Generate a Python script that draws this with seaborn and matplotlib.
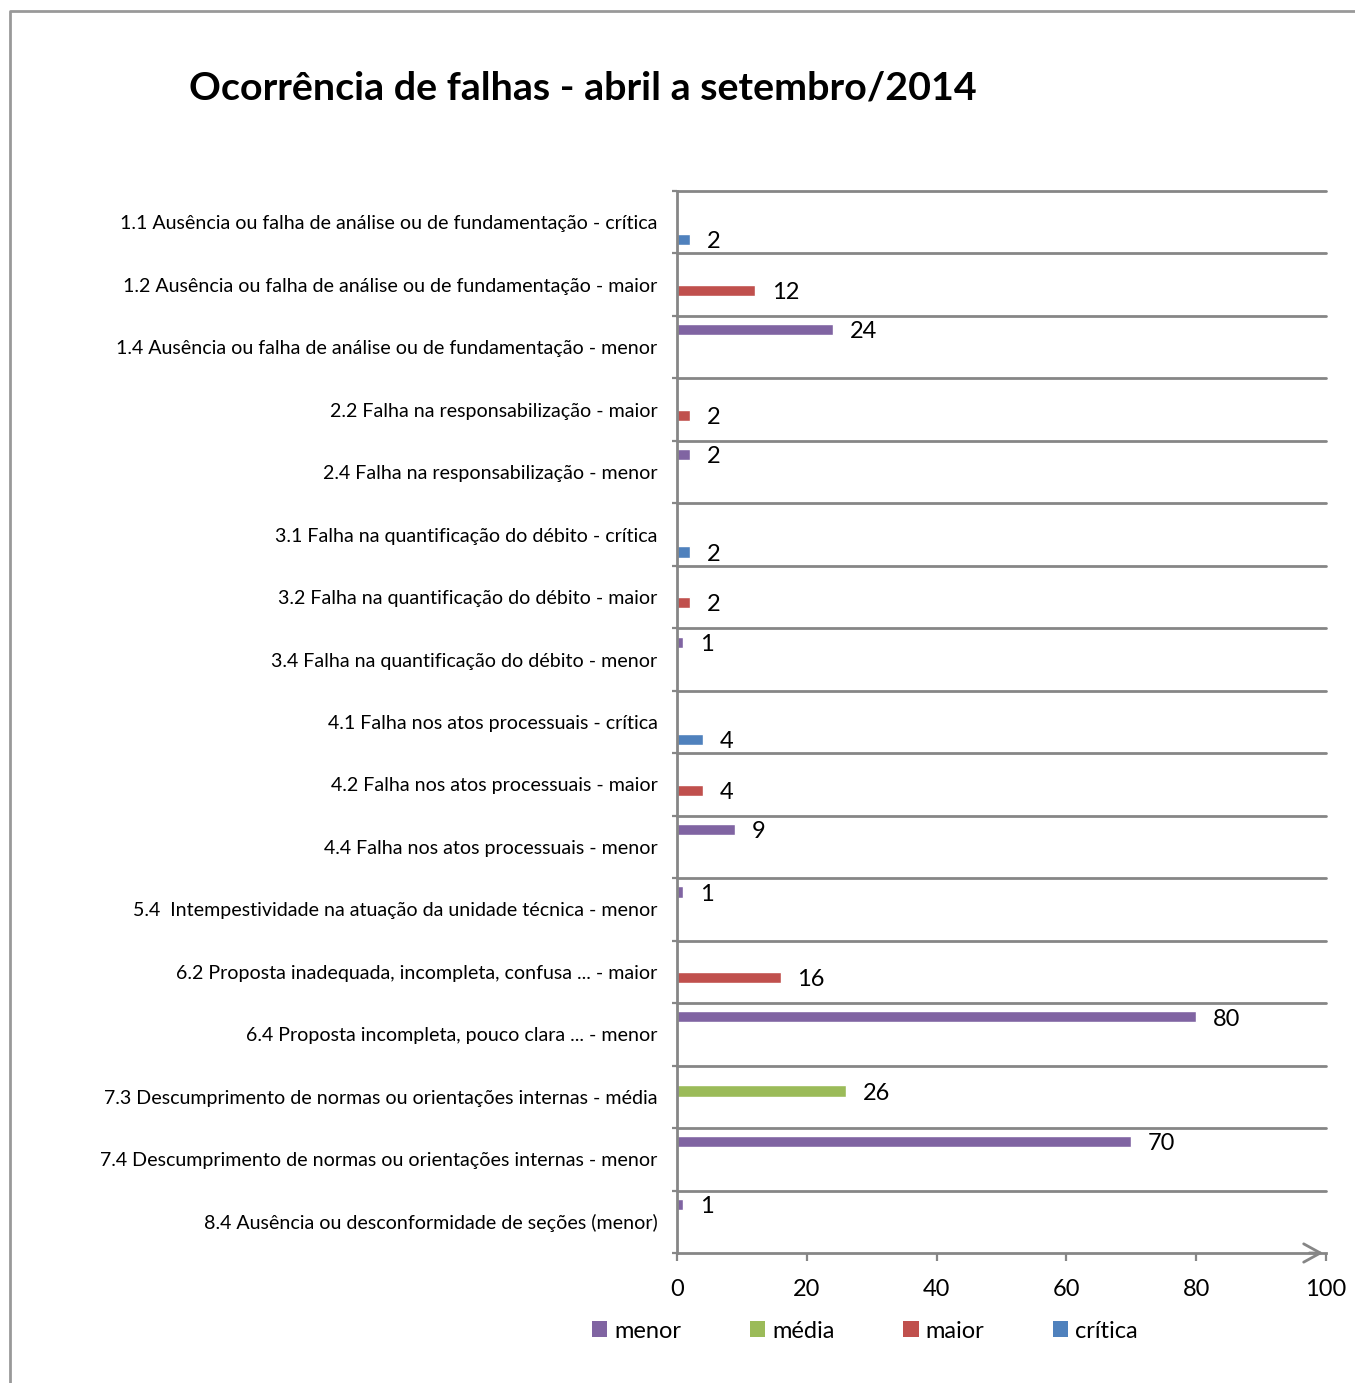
import matplotlib
matplotlib.use("Agg")
import matplotlib.pyplot as plt
import matplotlib.font_manager as fm
from matplotlib.lines import Line2D
from matplotlib.patches import Patch
import seaborn as sns
import pandas as pd

categories = [
    "1.1 Ausência ou falha de análise ou de fundamentação - crítica",
    "1.2 Ausência ou falha de análise ou de fundamentação - maior",
    "1.4 Ausência ou falha de análise ou de fundamentação - menor",
    "2.2 Falha na responsabilização - maior",
    "2.4 Falha na responsabilização - menor",
    "3.1 Falha na quantificação do débito - crítica",
    "3.2 Falha na quantificação do débito - maior",
    "3.4 Falha na quantificação do débito - menor",
    "4.1 Falha nos atos processuais - crítica",
    "4.2 Falha nos atos processuais - maior",
    "4.4 Falha nos atos processuais - menor",
    "5.4  Intempestividade na atuação da unidade técnica - menor",
    "6.2 Proposta inadequada, incompleta, confusa ... - maior",
    "6.4 Proposta incompleta, pouco clara ... - menor",
    "7.3 Descumprimento de normas ou orientações internas - média",
    "7.4 Descumprimento de normas ou orientações internas - menor",
    "8.4 Ausência ou desconformidade de seções (menor)",
]
severity = ["crítica", "maior", "menor", "maior", "menor", "crítica", "maior", "menor",
            "crítica", "maior", "menor", "menor", "maior", "menor", "média", "menor", "menor"]
values = [2, 12, 24, 2, 2, 2, 2, 1, 4, 4, 9, 1, 16, 80, 26, 70, 1]

series_order = ["menor", "média", "maior", "crítica"]
series_colors = ["#8064A2", "#9BBB59", "#C0504D", "#4F81BD"]
x_ticks = [0, 20, 40, 60, 80, 100]
title = "Ocorrência de falhas - abril a setembro/2014"

available = {f.name for f in fm.fontManager.ttflist}
family = "Liberation Sans Narrow" if "Liberation Sans Narrow" in available else "Lato"

sns.set_theme(style="white")
plt.rcParams["font.family"] = [family, "DejaVu Sans"]
plt.rcParams["text.color"] = "black"
plt.rcParams["xtick.labelcolor"] = "black"
plt.rcParams["ytick.labelcolor"] = "black"

GRAY = "#868686"
W, H = 1355, 1383
fig = plt.figure(figsize=(W / 100, H / 100), dpi=100)
ax = fig.add_axes([677 / W, 1 - 1253 / H, 649 / W, 1062 / H])

df = pd.DataFrame({"categoria": categories, "serie": severity, "valor": values})
palette = dict(zip(series_order, series_colors))
sns.barplot(data=df, y="categoria", x="valor", hue="serie", hue_order=series_order,
            order=categories, palette=palette, orient="h", dodge=True,
            width=0.744, gap=0.05, saturation=1, errorbar=None, legend=False, ax=ax)

for cont in ax.containers:
    labels = ax.bar_label(cont, padding=12, fontsize=17, color="black")
    for t in labels:
        x0, y0 = t.xyann
        t.xyann = (x0, y0 - 1.5)

n = len(categories)
ax.set_xlim(0, 100)
ax.set_ylim(n - 0.5, -0.5)
for b in range(n):
    ax.axhline(b - 0.5, color=GRAY, lw=2, zorder=0, clip_on=False)

ax.set_xticks(x_ticks)
ax.set_xticklabels([str(t) for t in x_ticks], fontsize=17, color="black")
ax.tick_params(axis="x", direction="out", length=6, width=1.6, color=GRAY, pad=12.5, bottom=True)
ax.set_yticks(range(n))
ax.set_yticklabels(categories, fontsize=14.1, color="black")
ax.tick_params(axis="y", length=0, pad=14)
ax.set_yticks([b - 0.5 for b in range(n + 1)], minor=True)
ax.tick_params(axis="y", which="minor", direction="out", length=3.6, width=1.6, color=GRAY, left=True)
ax.set_xlabel("")
ax.set_ylabel("")

for s in ["top", "right"]:
    ax.spines[s].set_visible(False)
for s in ["left", "bottom"]:
    ax.spines[s].set_color(GRAY)
    ax.spines[s].set_linewidth(2)

ax.annotate("", xy=(1.0, 0), xycoords="axes fraction", xytext=(0.97, 0),
            arrowprops=dict(arrowstyle="->,head_length=1.0,head_width=0.55", color=GRAY, lw=2),
            annotation_clip=False)

handles = [Patch(facecolor=c, edgecolor="none") for c in series_colors]
fig.legend(handles, series_order, loc="center", bbox_to_anchor=(865 / W, 1 - 1331 / H),
           ncol=4, frameon=False, fontsize=17, handlelength=0.65, handleheight=0.65,
           handletextpad=0.3, columnspacing=2.9, labelcolor="black")

fig.text(189 / W, 1 - 88 / H, title, fontsize=28.4, fontweight="bold", ha="left", va="center",
         color="black")

fig.add_artist(Line2D([10 / W, 10 / W, 1.0], [0.0, 1 - 11 / H, 1 - 11 / H],
                      transform=fig.transFigure, color="#999999", lw=2))

fig.savefig("out.png", dpi=100)
